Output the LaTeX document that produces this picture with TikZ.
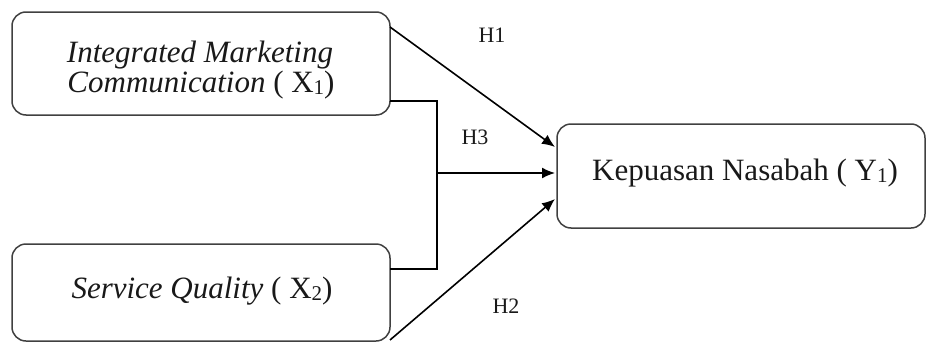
\documentclass[tikz,border=0pt]{standalone}
\usepackage{fontspec}
\setmainfont{Liberation Serif}
\usetikzlibrary{arrows.meta}
\newcommand\mysub[1]{\raisebox{-0.2ex}{\fontsize{21}{21}\selectfont #1}}
\begin{document}
\begin{tikzpicture}[x=1pt,y=-1pt,
  boxstyle/.style={draw=black!75, line width=1.5pt, rounded corners=14pt, inner sep=0pt},
  txt/.style={font=\fontsize{31}{32}\selectfont, text=black!90, inner sep=0pt, anchor=base},
  lbl/.style={font=\fontsize{22}{23}\selectfont, text=black!90, inner sep=0pt},
  conn/.style={line width=1.6pt, black},
  arr/.style={conn, -{Latex[length=13pt,width=11pt]}}]
\useasboundingbox (0,0) rectangle (927,343);
% boxes
\node[boxstyle, minimum width=378pt, minimum height=103pt] (x1) at (201,63.5) {};
\node[boxstyle, minimum width=378pt, minimum height=97pt] (x2) at (201,292.5) {};
\node[boxstyle, minimum width=368pt, minimum height=104pt] (y1) at (741,176) {};
% texts
\node[txt] (x1a) at (200,62) {\itshape Integrated Marketing};
\node[txt] (x1b) at (201,92) {\itshape Communication\upshape{} ( X\mysub{1})};
\node[txt] (x2a) at (202,298) {\itshape Service Quality\upshape{} ( X\mysub{2})};
\node[txt] (y1a) at (745,180) {Kepuasan Nasabah ( Y\mysub{1})};
% labels
\node[lbl] (h1) at (492,35) {H1};
\node[lbl] (h3) at (475,137) {H3};
\node[lbl] (h2) at (506,306) {H2};
% connector points
\coordinate (s1) at (390,27);
\coordinate (e1) at (555,147);
\coordinate (b1) at (390,101);
\coordinate (b2) at (390,269);
\coordinate (bj1) at (437,101);
\coordinate (bj2) at (437,269);
\coordinate (bm) at (437,173);
\coordinate (e3) at (555,173);
\coordinate (s2) at (390,340);
\coordinate (e2) at (555,199);
% connectors
\draw[arr] (s1) -- (e1);
\draw[conn] (b1) -- (bj1) -- (bj2) -- (b2);
\draw[arr] (bm) -- (e3);
\draw[arr] (s2) -- (e2);
\end{tikzpicture}
\end{document}
